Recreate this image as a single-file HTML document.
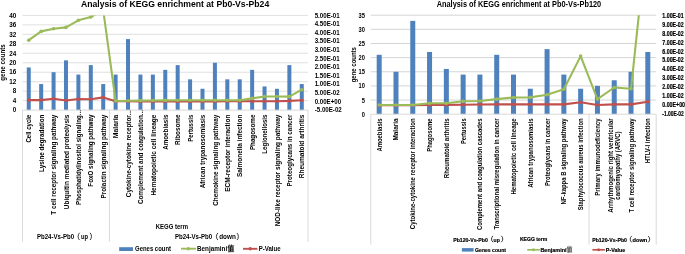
<!DOCTYPE html>
<html><head><meta charset="utf-8"><style>
html,body{margin:0;padding:0;background:#fff;width:685px;height:254px;overflow:hidden}
svg{display:block;will-change:transform}
</style></head><body>
<svg width="685" height="254" viewBox="0 0 685 254" font-family='"Liberation Sans", sans-serif'>
<rect width="685" height="254" fill="#fff"/>
<line x1="22.55" y1="100.63" x2="307.98" y2="100.63" stroke="#e0e0e0" stroke-width="1"/>
<line x1="22.55" y1="91.16" x2="307.98" y2="91.16" stroke="#e0e0e0" stroke-width="1"/>
<line x1="22.55" y1="81.69" x2="307.98" y2="81.69" stroke="#e0e0e0" stroke-width="1"/>
<line x1="22.55" y1="72.22" x2="307.98" y2="72.22" stroke="#e0e0e0" stroke-width="1"/>
<line x1="22.55" y1="62.75" x2="307.98" y2="62.75" stroke="#e0e0e0" stroke-width="1"/>
<line x1="22.55" y1="53.28" x2="307.98" y2="53.28" stroke="#e0e0e0" stroke-width="1"/>
<line x1="22.55" y1="43.81" x2="307.98" y2="43.81" stroke="#e0e0e0" stroke-width="1"/>
<line x1="22.55" y1="34.34" x2="307.98" y2="34.34" stroke="#e0e0e0" stroke-width="1"/>
<line x1="22.55" y1="24.87" x2="307.98" y2="24.87" stroke="#e0e0e0" stroke-width="1"/>
<line x1="22.55" y1="15.40" x2="307.98" y2="15.40" stroke="#e0e0e0" stroke-width="1"/>
<rect x="26.76" y="67.48" width="4.00" height="42.61" fill="#4f81bd"/>
<rect x="39.17" y="84.06" width="4.00" height="26.04" fill="#4f81bd"/>
<rect x="51.58" y="72.22" width="4.00" height="37.88" fill="#4f81bd"/>
<rect x="63.98" y="60.38" width="4.00" height="49.72" fill="#4f81bd"/>
<rect x="76.39" y="74.59" width="4.00" height="35.51" fill="#4f81bd"/>
<rect x="88.80" y="65.12" width="4.00" height="44.98" fill="#4f81bd"/>
<rect x="101.22" y="84.06" width="4.00" height="26.04" fill="#4f81bd"/>
<rect x="113.62" y="74.59" width="4.00" height="35.51" fill="#4f81bd"/>
<rect x="126.03" y="39.08" width="4.00" height="71.02" fill="#4f81bd"/>
<rect x="138.44" y="74.59" width="4.00" height="35.51" fill="#4f81bd"/>
<rect x="150.86" y="74.59" width="4.00" height="35.51" fill="#4f81bd"/>
<rect x="163.27" y="69.85" width="4.00" height="40.25" fill="#4f81bd"/>
<rect x="175.68" y="65.12" width="4.00" height="44.98" fill="#4f81bd"/>
<rect x="188.09" y="79.32" width="4.00" height="30.78" fill="#4f81bd"/>
<rect x="200.50" y="88.79" width="4.00" height="21.31" fill="#4f81bd"/>
<rect x="212.91" y="62.75" width="4.00" height="47.35" fill="#4f81bd"/>
<rect x="225.32" y="79.32" width="4.00" height="30.78" fill="#4f81bd"/>
<rect x="237.73" y="79.32" width="4.00" height="30.78" fill="#4f81bd"/>
<rect x="250.14" y="69.85" width="4.00" height="40.25" fill="#4f81bd"/>
<rect x="262.55" y="86.42" width="4.00" height="23.67" fill="#4f81bd"/>
<rect x="274.95" y="88.79" width="4.00" height="21.31" fill="#4f81bd"/>
<rect x="287.37" y="65.12" width="4.00" height="44.98" fill="#4f81bd"/>
<rect x="299.78" y="84.06" width="4.00" height="26.04" fill="#4f81bd"/>
<line x1="22.55" y1="110.10" x2="307.98" y2="110.10" stroke="#d9d9d9" stroke-width="1"/>
<line x1="22.55" y1="110.10" x2="22.55" y2="241.70" stroke="#d9d9d9" stroke-width="1"/>
<line x1="109.42" y1="110.10" x2="109.42" y2="241.70" stroke="#d9d9d9" stroke-width="1"/>
<line x1="307.98" y1="110.10" x2="307.98" y2="241.70" stroke="#d9d9d9" stroke-width="1"/>
<clipPath id="cl"><rect x="22.55" y="15.4" width="285.43" height="100.69999999999999"/></clipPath>
<g clip-path="url(#cl)"><polyline points="28.76,100.10 41.17,100.10 53.58,98.80 65.98,100.50 78.39,99.00 90.80,99.20 103.22,97.40 115.62,101.30 128.03,101.30 140.44,101.40 152.86,101.40 165.27,101.50 177.68,101.50 190.09,101.50 202.50,101.50 214.91,101.40 227.32,101.30 239.73,101.30 252.14,101.20 264.55,101.20 276.95,101.20 289.37,100.90 301.78,100.20" fill="none" stroke="#c0504d" stroke-width="2.1" stroke-linejoin="round"/><circle cx="28.76" cy="100.10" r="1.8" fill="#c0504d"/><circle cx="41.17" cy="100.10" r="1.8" fill="#c0504d"/><circle cx="53.58" cy="98.80" r="1.8" fill="#c0504d"/><circle cx="65.98" cy="100.50" r="1.8" fill="#c0504d"/><circle cx="78.39" cy="99.00" r="1.8" fill="#c0504d"/><circle cx="90.80" cy="99.20" r="1.8" fill="#c0504d"/><circle cx="103.22" cy="97.40" r="1.8" fill="#c0504d"/><circle cx="115.62" cy="101.30" r="1.8" fill="#c0504d"/><circle cx="128.03" cy="101.30" r="1.8" fill="#c0504d"/><circle cx="140.44" cy="101.40" r="1.8" fill="#c0504d"/><circle cx="152.86" cy="101.40" r="1.8" fill="#c0504d"/><circle cx="165.27" cy="101.50" r="1.8" fill="#c0504d"/><circle cx="177.68" cy="101.50" r="1.8" fill="#c0504d"/><circle cx="190.09" cy="101.50" r="1.8" fill="#c0504d"/><circle cx="202.50" cy="101.50" r="1.8" fill="#c0504d"/><circle cx="214.91" cy="101.40" r="1.8" fill="#c0504d"/><circle cx="227.32" cy="101.30" r="1.8" fill="#c0504d"/><circle cx="239.73" cy="101.30" r="1.8" fill="#c0504d"/><circle cx="252.14" cy="101.20" r="1.8" fill="#c0504d"/><circle cx="264.55" cy="101.20" r="1.8" fill="#c0504d"/><circle cx="276.95" cy="101.20" r="1.8" fill="#c0504d"/><circle cx="289.37" cy="100.90" r="1.8" fill="#c0504d"/><circle cx="301.78" cy="100.20" r="1.8" fill="#c0504d"/></g>
<g clip-path="url(#cl)"><polyline points="28.76,40.20 41.17,31.40 53.58,28.80 65.98,27.40 78.39,20.30 90.80,17.00 103.22,10.00 115.62,101.00 128.03,100.80 140.44,100.60 152.86,100.50 165.27,100.40 177.68,100.30 190.09,100.30 202.50,100.30 214.91,100.30 227.32,100.30 239.73,100.30 252.14,98.40 264.55,96.50 276.95,96.50 289.37,96.60 301.78,89.70" fill="none" stroke="#9bbb59" stroke-width="2.1" stroke-linejoin="round"/><circle cx="28.76" cy="40.20" r="1.8" fill="#9bbb59"/><circle cx="41.17" cy="31.40" r="1.8" fill="#9bbb59"/><circle cx="53.58" cy="28.80" r="1.8" fill="#9bbb59"/><circle cx="65.98" cy="27.40" r="1.8" fill="#9bbb59"/><circle cx="78.39" cy="20.30" r="1.8" fill="#9bbb59"/><circle cx="90.80" cy="17.00" r="1.8" fill="#9bbb59"/><circle cx="103.22" cy="10.00" r="1.8" fill="#9bbb59"/><circle cx="115.62" cy="101.00" r="1.8" fill="#9bbb59"/><circle cx="128.03" cy="100.80" r="1.8" fill="#9bbb59"/><circle cx="140.44" cy="100.60" r="1.8" fill="#9bbb59"/><circle cx="152.86" cy="100.50" r="1.8" fill="#9bbb59"/><circle cx="165.27" cy="100.40" r="1.8" fill="#9bbb59"/><circle cx="177.68" cy="100.30" r="1.8" fill="#9bbb59"/><circle cx="190.09" cy="100.30" r="1.8" fill="#9bbb59"/><circle cx="202.50" cy="100.30" r="1.8" fill="#9bbb59"/><circle cx="214.91" cy="100.30" r="1.8" fill="#9bbb59"/><circle cx="227.32" cy="100.30" r="1.8" fill="#9bbb59"/><circle cx="239.73" cy="100.30" r="1.8" fill="#9bbb59"/><circle cx="252.14" cy="98.40" r="1.8" fill="#9bbb59"/><circle cx="264.55" cy="96.50" r="1.8" fill="#9bbb59"/><circle cx="276.95" cy="96.50" r="1.8" fill="#9bbb59"/><circle cx="289.37" cy="96.60" r="1.8" fill="#9bbb59"/><circle cx="301.78" cy="89.70" r="1.8" fill="#9bbb59"/></g>
<text x="16.20" y="111.90" font-size="6.98" font-weight="bold" text-anchor="end" textLength="3.52" lengthAdjust="spacingAndGlyphs" fill="#000">0</text>
<text x="16.20" y="102.51" font-size="6.98" font-weight="bold" text-anchor="end" textLength="3.52" lengthAdjust="spacingAndGlyphs" fill="#000">4</text>
<text x="16.20" y="93.13" font-size="6.98" font-weight="bold" text-anchor="end" textLength="3.52" lengthAdjust="spacingAndGlyphs" fill="#000">8</text>
<text x="16.20" y="83.74" font-size="6.98" font-weight="bold" text-anchor="end" textLength="7.05" lengthAdjust="spacingAndGlyphs" fill="#000">12</text>
<text x="16.20" y="74.36" font-size="6.98" font-weight="bold" text-anchor="end" textLength="7.05" lengthAdjust="spacingAndGlyphs" fill="#000">16</text>
<text x="16.20" y="64.97" font-size="6.98" font-weight="bold" text-anchor="end" textLength="7.05" lengthAdjust="spacingAndGlyphs" fill="#000">20</text>
<text x="16.20" y="55.59" font-size="6.98" font-weight="bold" text-anchor="end" textLength="7.05" lengthAdjust="spacingAndGlyphs" fill="#000">24</text>
<text x="16.20" y="46.20" font-size="6.98" font-weight="bold" text-anchor="end" textLength="7.05" lengthAdjust="spacingAndGlyphs" fill="#000">28</text>
<text x="16.20" y="36.82" font-size="6.98" font-weight="bold" text-anchor="end" textLength="7.05" lengthAdjust="spacingAndGlyphs" fill="#000">32</text>
<text x="16.20" y="27.43" font-size="6.98" font-weight="bold" text-anchor="end" textLength="7.05" lengthAdjust="spacingAndGlyphs" fill="#000">36</text>
<text x="16.20" y="18.05" font-size="6.98" font-weight="bold" text-anchor="end" textLength="7.05" lengthAdjust="spacingAndGlyphs" fill="#000">40</text>
<text x="314.70" y="17.70" font-size="7.00" font-weight="bold" text-anchor="start" textLength="24.92" lengthAdjust="spacingAndGlyphs" fill="#000">5.00E-01</text>
<text x="314.70" y="26.28" font-size="7.00" font-weight="bold" text-anchor="start" textLength="24.92" lengthAdjust="spacingAndGlyphs" fill="#000">4.50E-01</text>
<text x="314.70" y="34.86" font-size="7.00" font-weight="bold" text-anchor="start" textLength="24.92" lengthAdjust="spacingAndGlyphs" fill="#000">4.00E-01</text>
<text x="314.70" y="43.45" font-size="7.00" font-weight="bold" text-anchor="start" textLength="24.92" lengthAdjust="spacingAndGlyphs" fill="#000">3.50E-01</text>
<text x="314.70" y="52.03" font-size="7.00" font-weight="bold" text-anchor="start" textLength="24.92" lengthAdjust="spacingAndGlyphs" fill="#000">3.00E-01</text>
<text x="314.70" y="60.61" font-size="7.00" font-weight="bold" text-anchor="start" textLength="24.92" lengthAdjust="spacingAndGlyphs" fill="#000">2.50E-01</text>
<text x="314.70" y="69.19" font-size="7.00" font-weight="bold" text-anchor="start" textLength="24.92" lengthAdjust="spacingAndGlyphs" fill="#000">2.00E-01</text>
<text x="314.70" y="77.77" font-size="7.00" font-weight="bold" text-anchor="start" textLength="24.92" lengthAdjust="spacingAndGlyphs" fill="#000">1.50E-01</text>
<text x="314.70" y="86.35" font-size="7.00" font-weight="bold" text-anchor="start" textLength="24.92" lengthAdjust="spacingAndGlyphs" fill="#000">1.00E-01</text>
<text x="314.70" y="94.94" font-size="7.00" font-weight="bold" text-anchor="start" textLength="24.92" lengthAdjust="spacingAndGlyphs" fill="#000">5.00E-02</text>
<text x="314.70" y="103.52" font-size="7.00" font-weight="bold" text-anchor="start" textLength="26.40" lengthAdjust="spacingAndGlyphs" fill="#000">0.00E+00</text>
<text x="314.70" y="112.10" font-size="7.00" font-weight="bold" text-anchor="start" textLength="27.06" lengthAdjust="spacingAndGlyphs" fill="#000">-5.00E-02</text>
<text x="5.00" y="62.50" font-size="6.82" font-weight="bold" text-anchor="middle" textLength="36.60" lengthAdjust="spacingAndGlyphs" transform="rotate(-90 5.00 62.50)" fill="#000">gene counts</text>
<text x="31.41" y="114.60" font-size="6.85" font-weight="bold" text-anchor="end" textLength="27.98" lengthAdjust="spacingAndGlyphs" transform="rotate(-90 31.41 114.60)" fill="#000">Cell cycle</text>
<text x="43.82" y="114.60" font-size="6.85" font-weight="bold" text-anchor="end" textLength="57.36" lengthAdjust="spacingAndGlyphs" transform="rotate(-90 43.82 114.60)" fill="#000">Lysine degradation</text>
<text x="56.23" y="114.60" font-size="6.85" font-weight="bold" text-anchor="end" textLength="100.05" lengthAdjust="spacingAndGlyphs" transform="rotate(-90 56.23 114.60)" fill="#000">T cell receptor signaling pathway</text>
<text x="68.64" y="114.60" font-size="6.85" font-weight="bold" text-anchor="end" textLength="94.60" lengthAdjust="spacingAndGlyphs" transform="rotate(-90 68.64 114.60)" fill="#000">Ubiquitin mediated proteolysis</text>
<text x="81.05" y="110.00" font-size="6.85" font-weight="bold" text-anchor="end" textLength="95.00" lengthAdjust="spacingAndGlyphs" transform="rotate(-90 81.05 110.00)" fill="#000">Phosphatidylinositol signaling...</text>
<text x="93.46" y="114.60" font-size="6.85" font-weight="bold" text-anchor="end" textLength="72.10" lengthAdjust="spacingAndGlyphs" transform="rotate(-90 93.46 114.60)" fill="#000">FoxO signaling pathway</text>
<text x="105.87" y="114.60" font-size="6.85" font-weight="bold" text-anchor="end" textLength="83.84" lengthAdjust="spacingAndGlyphs" transform="rotate(-90 105.87 114.60)" fill="#000">Prolactin signaling pathway</text>
<text x="118.28" y="114.60" font-size="6.85" font-weight="bold" text-anchor="end" textLength="23.60" lengthAdjust="spacingAndGlyphs" transform="rotate(-90 118.28 114.60)" fill="#000">Malaria</text>
<text x="130.69" y="110.20" font-size="6.85" font-weight="bold" text-anchor="end" textLength="87.00" lengthAdjust="spacingAndGlyphs" transform="rotate(-90 130.69 110.20)" fill="#000">Cytokine-cytokine receptor...</text>
<text x="143.10" y="109.90" font-size="6.85" font-weight="bold" text-anchor="end" textLength="94.20" lengthAdjust="spacingAndGlyphs" transform="rotate(-90 143.10 109.90)" fill="#000">Complement and coagulation...</text>
<text x="155.51" y="114.60" font-size="6.85" font-weight="bold" text-anchor="end" textLength="80.95" lengthAdjust="spacingAndGlyphs" transform="rotate(-90 155.51 114.60)" fill="#000">Hematopoietic cell lineage</text>
<text x="167.92" y="114.60" font-size="6.85" font-weight="bold" text-anchor="end" textLength="35.23" lengthAdjust="spacingAndGlyphs" transform="rotate(-90 167.92 114.60)" fill="#000">Amoebiasis</text>
<text x="180.33" y="114.60" font-size="6.85" font-weight="bold" text-anchor="end" textLength="30.48" lengthAdjust="spacingAndGlyphs" transform="rotate(-90 180.33 114.60)" fill="#000">Ribosome</text>
<text x="192.74" y="114.60" font-size="6.85" font-weight="bold" text-anchor="end" textLength="27.27" lengthAdjust="spacingAndGlyphs" transform="rotate(-90 192.74 114.60)" fill="#000">Pertussis</text>
<text x="205.15" y="114.60" font-size="6.85" font-weight="bold" text-anchor="end" textLength="73.77" lengthAdjust="spacingAndGlyphs" transform="rotate(-90 205.15 114.60)" fill="#000">African trypanosomiasis</text>
<text x="217.56" y="114.60" font-size="6.85" font-weight="bold" text-anchor="end" textLength="91.16" lengthAdjust="spacingAndGlyphs" transform="rotate(-90 217.56 114.60)" fill="#000">Chemokine signaling pathway</text>
<text x="229.97" y="114.60" font-size="6.85" font-weight="bold" text-anchor="end" textLength="77.07" lengthAdjust="spacingAndGlyphs" transform="rotate(-90 229.97 114.60)" fill="#000">ECM-receptor interaction</text>
<text x="242.38" y="114.60" font-size="6.85" font-weight="bold" text-anchor="end" textLength="62.43" lengthAdjust="spacingAndGlyphs" transform="rotate(-90 242.38 114.60)" fill="#000">Salmonella infection</text>
<text x="254.79" y="114.60" font-size="6.85" font-weight="bold" text-anchor="end" textLength="35.51" lengthAdjust="spacingAndGlyphs" transform="rotate(-90 254.79 114.60)" fill="#000">Phagosome</text>
<text x="267.20" y="114.60" font-size="6.85" font-weight="bold" text-anchor="end" textLength="39.03" lengthAdjust="spacingAndGlyphs" transform="rotate(-90 267.20 114.60)" fill="#000">Legionellosis</text>
<text x="279.61" y="114.60" font-size="6.85" font-weight="bold" text-anchor="end" textLength="111.73" lengthAdjust="spacingAndGlyphs" transform="rotate(-90 279.61 114.60)" fill="#000">NOD-like receptor signaling pathway</text>
<text x="292.02" y="114.60" font-size="6.85" font-weight="bold" text-anchor="end" textLength="71.97" lengthAdjust="spacingAndGlyphs" transform="rotate(-90 292.02 114.60)" fill="#000">Proteoglycans in cancer</text>
<text x="304.43" y="114.60" font-size="6.85" font-weight="bold" text-anchor="end" textLength="63.66" lengthAdjust="spacingAndGlyphs" transform="rotate(-90 304.43 114.60)" fill="#000">Rheumatoid arthritis</text>
<text x="81.00" y="7.35" font-size="9.86" font-weight="bold" text-anchor="start" textLength="188.20" lengthAdjust="spacingAndGlyphs" fill="#000">Analysis of KEGG enrichment at Pb0-Vs-Pb24</text>
<line x1="370.80" y1="100.06" x2="656.20" y2="100.06" stroke="#d5d5d5" stroke-width="1"/>
<line x1="370.80" y1="85.91" x2="656.20" y2="85.91" stroke="#d5d5d5" stroke-width="1"/>
<line x1="370.80" y1="71.77" x2="656.20" y2="71.77" stroke="#d5d5d5" stroke-width="1"/>
<line x1="370.80" y1="57.63" x2="656.20" y2="57.63" stroke="#d5d5d5" stroke-width="1"/>
<line x1="370.80" y1="43.49" x2="656.20" y2="43.49" stroke="#d5d5d5" stroke-width="1"/>
<line x1="370.80" y1="29.34" x2="656.20" y2="29.34" stroke="#d5d5d5" stroke-width="1"/>
<line x1="370.80" y1="15.20" x2="656.20" y2="15.20" stroke="#d5d5d5" stroke-width="1"/>
<rect x="376.69" y="54.80" width="5.00" height="59.40" fill="#4f81bd"/>
<rect x="393.48" y="71.77" width="5.00" height="42.43" fill="#4f81bd"/>
<rect x="410.27" y="20.86" width="5.00" height="93.34" fill="#4f81bd"/>
<rect x="427.06" y="51.97" width="5.00" height="62.23" fill="#4f81bd"/>
<rect x="443.85" y="68.94" width="5.00" height="45.26" fill="#4f81bd"/>
<rect x="460.64" y="74.60" width="5.00" height="39.60" fill="#4f81bd"/>
<rect x="477.42" y="74.60" width="5.00" height="39.60" fill="#4f81bd"/>
<rect x="494.21" y="54.80" width="5.00" height="59.40" fill="#4f81bd"/>
<rect x="511.00" y="74.60" width="5.00" height="39.60" fill="#4f81bd"/>
<rect x="527.79" y="88.74" width="5.00" height="25.46" fill="#4f81bd"/>
<rect x="544.58" y="49.14" width="5.00" height="65.06" fill="#4f81bd"/>
<rect x="561.36" y="74.60" width="5.00" height="39.60" fill="#4f81bd"/>
<rect x="578.15" y="88.74" width="5.00" height="25.46" fill="#4f81bd"/>
<rect x="594.94" y="85.91" width="5.00" height="28.29" fill="#4f81bd"/>
<rect x="611.73" y="80.26" width="5.00" height="33.94" fill="#4f81bd"/>
<rect x="628.52" y="71.77" width="5.00" height="42.43" fill="#4f81bd"/>
<rect x="645.31" y="51.97" width="5.00" height="62.23" fill="#4f81bd"/>
<line x1="370.80" y1="114.20" x2="656.20" y2="114.20" stroke="#d9d9d9" stroke-width="1"/>
<line x1="370.80" y1="114.20" x2="370.80" y2="244.60" stroke="#d9d9d9" stroke-width="1"/>
<line x1="589.05" y1="114.20" x2="589.05" y2="244.60" stroke="#d9d9d9" stroke-width="1"/>
<line x1="656.20" y1="114.20" x2="656.20" y2="244.60" stroke="#d9d9d9" stroke-width="1"/>
<clipPath id="cr"><rect x="370.8" y="15.2" width="285.40000000000003" height="105.0"/></clipPath>
<g clip-path="url(#cr)"><polyline points="379.19,105.20 395.98,105.20 412.77,105.20 429.56,105.00 446.35,104.90 463.14,104.80 479.92,104.50 496.71,104.40 513.50,104.40 530.29,104.40 547.08,104.40 563.86,104.40 580.65,102.30 597.44,105.00 614.23,104.40 631.02,104.40 647.81,101.80" fill="none" stroke="#c0504d" stroke-width="2.1" stroke-linejoin="round"/><circle cx="379.19" cy="105.20" r="1.8" fill="#c0504d"/><circle cx="395.98" cy="105.20" r="1.8" fill="#c0504d"/><circle cx="412.77" cy="105.20" r="1.8" fill="#c0504d"/><circle cx="429.56" cy="105.00" r="1.8" fill="#c0504d"/><circle cx="446.35" cy="104.90" r="1.8" fill="#c0504d"/><circle cx="463.14" cy="104.80" r="1.8" fill="#c0504d"/><circle cx="479.92" cy="104.50" r="1.8" fill="#c0504d"/><circle cx="496.71" cy="104.40" r="1.8" fill="#c0504d"/><circle cx="513.50" cy="104.40" r="1.8" fill="#c0504d"/><circle cx="530.29" cy="104.40" r="1.8" fill="#c0504d"/><circle cx="547.08" cy="104.40" r="1.8" fill="#c0504d"/><circle cx="563.86" cy="104.40" r="1.8" fill="#c0504d"/><circle cx="580.65" cy="102.30" r="1.8" fill="#c0504d"/><circle cx="597.44" cy="105.00" r="1.8" fill="#c0504d"/><circle cx="614.23" cy="104.40" r="1.8" fill="#c0504d"/><circle cx="631.02" cy="104.40" r="1.8" fill="#c0504d"/><circle cx="647.81" cy="101.80" r="1.8" fill="#c0504d"/></g>
<g clip-path="url(#cr)"><polyline points="379.19,105.00 395.98,105.00 412.77,105.00 429.56,103.20 446.35,103.20 463.14,101.30 479.92,101.00 496.71,99.10 513.50,97.50 530.29,97.40 547.08,94.70 563.86,89.20 580.65,56.10 597.44,99.10 614.23,87.50 631.02,88.80 647.81,-70.00" fill="none" stroke="#9bbb59" stroke-width="2.1" stroke-linejoin="round"/><circle cx="379.19" cy="105.00" r="1.8" fill="#9bbb59"/><circle cx="395.98" cy="105.00" r="1.8" fill="#9bbb59"/><circle cx="412.77" cy="105.00" r="1.8" fill="#9bbb59"/><circle cx="429.56" cy="103.20" r="1.8" fill="#9bbb59"/><circle cx="446.35" cy="103.20" r="1.8" fill="#9bbb59"/><circle cx="463.14" cy="101.30" r="1.8" fill="#9bbb59"/><circle cx="479.92" cy="101.00" r="1.8" fill="#9bbb59"/><circle cx="496.71" cy="99.10" r="1.8" fill="#9bbb59"/><circle cx="513.50" cy="97.50" r="1.8" fill="#9bbb59"/><circle cx="530.29" cy="97.40" r="1.8" fill="#9bbb59"/><circle cx="547.08" cy="94.70" r="1.8" fill="#9bbb59"/><circle cx="563.86" cy="89.20" r="1.8" fill="#9bbb59"/><circle cx="580.65" cy="56.10" r="1.8" fill="#9bbb59"/><circle cx="597.44" cy="99.10" r="1.8" fill="#9bbb59"/><circle cx="614.23" cy="87.50" r="1.8" fill="#9bbb59"/><circle cx="631.02" cy="88.80" r="1.8" fill="#9bbb59"/><circle cx="647.81" cy="-70.00" r="1.8" fill="#9bbb59"/></g>
<text x="365.00" y="116.70" font-size="7.03" font-weight="bold" text-anchor="end" textLength="3.19" lengthAdjust="spacingAndGlyphs" fill="#000">0</text>
<text x="365.00" y="102.56" font-size="7.03" font-weight="bold" text-anchor="end" textLength="3.19" lengthAdjust="spacingAndGlyphs" fill="#000">5</text>
<text x="365.00" y="88.41" font-size="7.03" font-weight="bold" text-anchor="end" textLength="6.39" lengthAdjust="spacingAndGlyphs" fill="#000">10</text>
<text x="365.00" y="74.27" font-size="7.03" font-weight="bold" text-anchor="end" textLength="6.39" lengthAdjust="spacingAndGlyphs" fill="#000">15</text>
<text x="365.00" y="60.13" font-size="7.03" font-weight="bold" text-anchor="end" textLength="6.39" lengthAdjust="spacingAndGlyphs" fill="#000">20</text>
<text x="365.00" y="45.99" font-size="7.03" font-weight="bold" text-anchor="end" textLength="6.39" lengthAdjust="spacingAndGlyphs" fill="#000">25</text>
<text x="365.00" y="31.84" font-size="7.03" font-weight="bold" text-anchor="end" textLength="6.39" lengthAdjust="spacingAndGlyphs" fill="#000">30</text>
<text x="365.00" y="17.70" font-size="7.03" font-weight="bold" text-anchor="end" textLength="6.39" lengthAdjust="spacingAndGlyphs" fill="#000">35</text>
<text x="662.30" y="17.90" font-size="6.70" font-weight="bold" text-anchor="start" textLength="21.45" lengthAdjust="spacingAndGlyphs" fill="#000" stroke="#000" stroke-width="0.18">1.00E-01</text>
<text x="662.30" y="26.82" font-size="6.70" font-weight="bold" text-anchor="start" textLength="21.45" lengthAdjust="spacingAndGlyphs" fill="#000" stroke="#000" stroke-width="0.18">9.00E-02</text>
<text x="662.30" y="35.74" font-size="6.70" font-weight="bold" text-anchor="start" textLength="21.45" lengthAdjust="spacingAndGlyphs" fill="#000" stroke="#000" stroke-width="0.18">8.00E-02</text>
<text x="662.30" y="44.65" font-size="6.70" font-weight="bold" text-anchor="start" textLength="21.45" lengthAdjust="spacingAndGlyphs" fill="#000" stroke="#000" stroke-width="0.18">7.00E-02</text>
<text x="662.30" y="53.57" font-size="6.70" font-weight="bold" text-anchor="start" textLength="21.45" lengthAdjust="spacingAndGlyphs" fill="#000" stroke="#000" stroke-width="0.18">6.00E-02</text>
<text x="662.30" y="62.49" font-size="6.70" font-weight="bold" text-anchor="start" textLength="21.45" lengthAdjust="spacingAndGlyphs" fill="#000" stroke="#000" stroke-width="0.18">5.00E-02</text>
<text x="662.30" y="71.41" font-size="6.70" font-weight="bold" text-anchor="start" textLength="21.45" lengthAdjust="spacingAndGlyphs" fill="#000" stroke="#000" stroke-width="0.18">4.00E-02</text>
<text x="662.30" y="80.33" font-size="6.70" font-weight="bold" text-anchor="start" textLength="21.45" lengthAdjust="spacingAndGlyphs" fill="#000" stroke="#000" stroke-width="0.18">3.00E-02</text>
<text x="662.30" y="89.25" font-size="6.70" font-weight="bold" text-anchor="start" textLength="21.45" lengthAdjust="spacingAndGlyphs" fill="#000" stroke="#000" stroke-width="0.18">2.00E-02</text>
<text x="662.30" y="98.16" font-size="6.70" font-weight="bold" text-anchor="start" textLength="21.45" lengthAdjust="spacingAndGlyphs" fill="#000" stroke="#000" stroke-width="0.18">1.00E-02</text>
<text x="662.30" y="107.08" font-size="6.70" font-weight="bold" text-anchor="start" textLength="22.72" lengthAdjust="spacingAndGlyphs" fill="#000" stroke="#000" stroke-width="0.18">0.00E+00</text>
<text x="662.30" y="116.00" font-size="6.70" font-weight="bold" text-anchor="start" textLength="21.45" lengthAdjust="spacingAndGlyphs" fill="#000" stroke="#000" stroke-width="0.18">-1.00E-02</text>
<text x="356.00" y="64.70" font-size="6.58" font-weight="bold" text-anchor="middle" textLength="35.31" lengthAdjust="spacingAndGlyphs" transform="rotate(-90 356.00 64.70)" fill="#000">gene counts</text>
<text x="381.69" y="118.40" font-size="6.44" font-weight="bold" text-anchor="end" textLength="33.12" lengthAdjust="spacingAndGlyphs" transform="rotate(-90 381.69 118.40)" fill="#000">Amoebiasis</text>
<text x="398.48" y="118.40" font-size="6.44" font-weight="bold" text-anchor="end" textLength="22.19" lengthAdjust="spacingAndGlyphs" transform="rotate(-90 398.48 118.40)" fill="#000">Malaria</text>
<text x="415.27" y="118.40" font-size="6.44" font-weight="bold" text-anchor="end" textLength="110.82" lengthAdjust="spacingAndGlyphs" transform="rotate(-90 415.27 118.40)" fill="#000">Cytokine-cytokine receptor interaction</text>
<text x="432.05" y="118.40" font-size="6.44" font-weight="bold" text-anchor="end" textLength="33.39" lengthAdjust="spacingAndGlyphs" transform="rotate(-90 432.05 118.40)" fill="#000">Phagosome</text>
<text x="448.84" y="118.40" font-size="6.44" font-weight="bold" text-anchor="end" textLength="59.86" lengthAdjust="spacingAndGlyphs" transform="rotate(-90 448.84 118.40)" fill="#000">Rheumatoid arthritis</text>
<text x="465.63" y="118.40" font-size="6.44" font-weight="bold" text-anchor="end" textLength="25.65" lengthAdjust="spacingAndGlyphs" transform="rotate(-90 465.63 118.40)" fill="#000">Pertussis</text>
<text x="482.42" y="118.40" font-size="6.44" font-weight="bold" text-anchor="end" textLength="111.56" lengthAdjust="spacingAndGlyphs" transform="rotate(-90 482.42 118.40)" fill="#000">Complement and coagulation cascades</text>
<text x="499.21" y="118.40" font-size="6.44" font-weight="bold" text-anchor="end" textLength="111.19" lengthAdjust="spacingAndGlyphs" transform="rotate(-90 499.21 118.40)" fill="#000">Transcriptional misregulation in cancer</text>
<text x="515.99" y="118.40" font-size="6.44" font-weight="bold" text-anchor="end" textLength="76.12" lengthAdjust="spacingAndGlyphs" transform="rotate(-90 515.99 118.40)" fill="#000">Hematopoietic cell lineage</text>
<text x="532.78" y="118.40" font-size="6.44" font-weight="bold" text-anchor="end" textLength="69.37" lengthAdjust="spacingAndGlyphs" transform="rotate(-90 532.78 118.40)" fill="#000">African trypanosomiasis</text>
<text x="549.57" y="118.40" font-size="6.44" font-weight="bold" text-anchor="end" textLength="67.68" lengthAdjust="spacingAndGlyphs" transform="rotate(-90 549.57 118.40)" fill="#000">Proteoglycans in cancer</text>
<text x="566.36" y="118.40" font-size="6.44" font-weight="bold" text-anchor="end" textLength="86.08" lengthAdjust="spacingAndGlyphs" transform="rotate(-90 566.36 118.40)" fill="#000">NF-kappa B signaling pathway</text>
<text x="583.15" y="118.40" font-size="6.44" font-weight="bold" text-anchor="end" textLength="91.90" lengthAdjust="spacingAndGlyphs" transform="rotate(-90 583.15 118.40)" fill="#000">Staphylococcus aureus infection</text>
<text x="599.94" y="118.40" font-size="6.44" font-weight="bold" text-anchor="end" textLength="77.38" lengthAdjust="spacingAndGlyphs" transform="rotate(-90 599.94 118.40)" fill="#000">Primary immunodeficiency</text>
<text x="613.22" y="118.40" font-size="6.44" font-weight="bold" text-anchor="end" textLength="94.31" lengthAdjust="spacingAndGlyphs" transform="rotate(-90 613.22 118.40)" fill="#000">Arrhythmogenic right ventricular</text>
<text x="620.22" y="131.48" font-size="6.44" font-weight="bold" text-anchor="end" textLength="68.16" lengthAdjust="spacingAndGlyphs" transform="rotate(-90 620.22 131.48)" fill="#000">cardiomyopathy (ARVC)</text>
<text x="633.51" y="118.40" font-size="6.44" font-weight="bold" text-anchor="end" textLength="94.08" lengthAdjust="spacingAndGlyphs" transform="rotate(-90 633.51 118.40)" fill="#000">T cell receptor signaling pathway</text>
<text x="650.30" y="118.40" font-size="6.44" font-weight="bold" text-anchor="end" textLength="44.88" lengthAdjust="spacingAndGlyphs" transform="rotate(-90 650.30 118.40)" fill="#000">HTLV-I infection</text>
<text x="436.70" y="6.90" font-size="8.52" font-weight="bold" text-anchor="start" textLength="164.50" lengthAdjust="spacingAndGlyphs" fill="#000">Analysis of KEGG enrichment at Pb0-Vs-Pb120</text>
<text x="36.90" y="238.90" font-size="6.60" font-weight="bold" text-anchor="start" textLength="37.20" lengthAdjust="spacingAndGlyphs" fill="#000">Pb24-Vs-Pb0</text>
<text x="81.00" y="238.90" font-size="6.60" font-weight="bold" text-anchor="start" textLength="7.10" lengthAdjust="spacingAndGlyphs" fill="#000">up</text>
<path d="M79.25,233.10 C77.65,234.57 77.65,238.33 79.25,239.80" fill="none" stroke="#222" stroke-width="0.9" stroke-linecap="round"/>
<path d="M90.35,233.10 C91.95,234.57 91.95,238.33 90.35,239.80" fill="none" stroke="#222" stroke-width="0.9" stroke-linecap="round"/>
<text x="174.90" y="238.90" font-size="6.60" font-weight="bold" text-anchor="start" textLength="37.30" lengthAdjust="spacingAndGlyphs" fill="#000">Pb24-Vs-Pb0</text>
<text x="219.20" y="238.90" font-size="6.60" font-weight="bold" text-anchor="start" textLength="16.60" lengthAdjust="spacingAndGlyphs" fill="#000">down</text>
<path d="M217.55,233.30 C215.95,234.73 215.95,238.37 217.55,239.80" fill="none" stroke="#222" stroke-width="0.9" stroke-linecap="round"/>
<path d="M237.25,233.30 C238.85,234.73 238.85,238.37 237.25,239.80" fill="none" stroke="#222" stroke-width="0.9" stroke-linecap="round"/>
<text x="453.20" y="241.90" font-size="5.58" font-weight="bold" text-anchor="start" textLength="34.70" lengthAdjust="spacingAndGlyphs" fill="#000" stroke="#000" stroke-width="0.18">Pb120-Vs-Pb0</text>
<text x="493.60" y="241.90" font-size="5.58" font-weight="bold" text-anchor="start" textLength="6.20" lengthAdjust="spacingAndGlyphs" fill="#000" stroke="#000" stroke-width="0.18">up</text>
<path d="M492.65,236.10 C491.05,237.38 491.05,240.62 492.65,241.90" fill="none" stroke="#222" stroke-width="0.9" stroke-linecap="round"/>
<path d="M501.65,236.10 C503.25,237.38 503.25,240.62 501.65,241.90" fill="none" stroke="#222" stroke-width="0.9" stroke-linecap="round"/>
<text x="592.20" y="241.90" font-size="5.58" font-weight="bold" text-anchor="start" textLength="34.80" lengthAdjust="spacingAndGlyphs" fill="#000" stroke="#000" stroke-width="0.18">Pb120-Vs-Pb0</text>
<text x="632.50" y="241.90" font-size="5.58" font-weight="bold" text-anchor="start" textLength="14.80" lengthAdjust="spacingAndGlyphs" fill="#000" stroke="#000" stroke-width="0.18">down</text>
<path d="M631.35,236.30 C629.75,237.58 629.75,240.82 631.35,242.10" fill="none" stroke="#222" stroke-width="0.9" stroke-linecap="round"/>
<path d="M648.55,236.30 C650.15,237.58 650.15,240.82 648.55,242.10" fill="none" stroke="#222" stroke-width="0.9" stroke-linecap="round"/>
<text x="155.80" y="228.80" font-size="6.60" font-weight="bold" text-anchor="start" textLength="32.20" lengthAdjust="spacingAndGlyphs" fill="#000">KEGG term</text>
<text x="519.90" y="240.60" font-size="5.65" font-weight="bold" text-anchor="start" textLength="27.50" lengthAdjust="spacingAndGlyphs" fill="#000" stroke="#000" stroke-width="0.18">KEGG term</text>
<rect x="119.20" y="247.20" width="13.80" height="3.80" fill="#4f81bd"/>
<text x="135.00" y="250.70" font-size="6.51" font-weight="bold" text-anchor="start" textLength="36.10" lengthAdjust="spacingAndGlyphs" fill="#000">Genes count</text>
<line x1="181.00" y1="248.70" x2="195.90" y2="248.70" stroke="#9bbb59" stroke-width="1.9"/>
<circle cx="188.3" cy="248.7" r="1.7" fill="#9bbb59"/>
<text x="197.00" y="250.70" font-size="6.51" font-weight="bold" text-anchor="start" textLength="30.20" lengthAdjust="spacingAndGlyphs" fill="#000">Benjamini</text>
<path d="M229.10,244.90 L228.00,247.56 M228.65,246.58 L228.65,251.90 M229.50,245.84 L233.60,245.84 M231.60,244.90 L231.60,246.77 M230.50,246.97 L233.00,246.97 M233.00,246.97 L233.00,250.72 M230.50,250.72 L233.00,250.72 M230.50,246.97 L230.50,250.72 M230.50,248.20 L233.00,248.20 M230.50,249.44 L233.00,249.44 M229.80,246.97 L229.80,251.65 M229.80,251.65 L233.60,251.65" fill="none" stroke="#000" stroke-width="0.7" stroke-linecap="square"/>
<line x1="243.00" y1="248.80" x2="257.40" y2="248.80" stroke="#c0504d" stroke-width="1.9"/>
<circle cx="250.2" cy="248.8" r="1.7" fill="#c0504d"/>
<text x="258.70" y="250.70" font-size="6.51" font-weight="bold" text-anchor="start" textLength="21.90" lengthAdjust="spacingAndGlyphs" fill="#000">P-Value</text>
<rect x="461.90" y="248.10" width="11.70" height="3.50" fill="#4f81bd"/>
<text x="475.10" y="251.80" font-size="5.58" font-weight="bold" text-anchor="start" textLength="30.90" lengthAdjust="spacingAndGlyphs" fill="#000" stroke="#000" stroke-width="0.18">Genes count</text>
<line x1="527.20" y1="249.80" x2="539.80" y2="249.80" stroke="#9bbb59" stroke-width="1.7"/>
<circle cx="533.5" cy="249.8" r="1.5" fill="#9bbb59"/>
<text x="540.40" y="251.80" font-size="5.58" font-weight="bold" text-anchor="start" textLength="26.20" lengthAdjust="spacingAndGlyphs" fill="#000" stroke="#000" stroke-width="0.18">Benjamini</text>
<path d="M568.00,246.30 L567.07,248.62 M567.62,247.76 L567.62,252.40 M568.34,247.12 L571.80,247.12 M570.11,246.30 L570.11,247.93 M569.18,248.10 L571.29,248.10 M571.29,248.10 L571.29,251.37 M569.18,251.37 L571.29,251.37 M569.18,248.10 L569.18,251.37 M569.18,249.18 L571.29,249.18 M569.18,250.25 L571.29,250.25 M568.59,248.10 L568.59,252.19 M568.59,252.19 L571.80,252.19" fill="none" stroke="#000" stroke-width="0.4" stroke-linecap="square"/>
<line x1="592.40" y1="249.80" x2="604.90" y2="249.80" stroke="#c0504d" stroke-width="1.7"/>
<circle cx="598.6" cy="249.8" r="1.5" fill="#c0504d"/>
<text x="605.80" y="251.80" font-size="5.58" font-weight="bold" text-anchor="start" textLength="19.40" lengthAdjust="spacingAndGlyphs" fill="#000" stroke="#000" stroke-width="0.18">P-Value</text>
</svg>
</body></html>
